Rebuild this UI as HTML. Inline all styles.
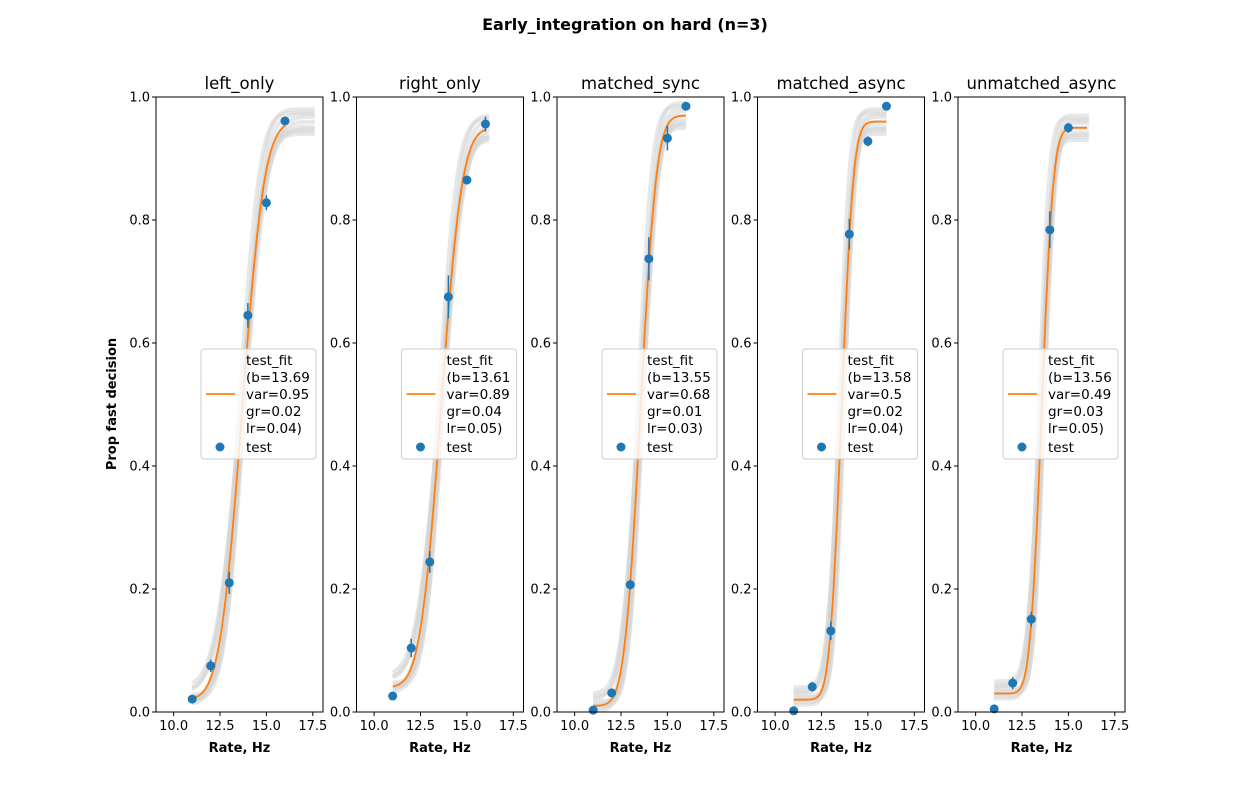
<!DOCTYPE html>
<html><head><meta charset="utf-8"><style>
body{margin:0;background:#fff;}
svg{display:block;font-family:"DejaVu Sans","Liberation Sans",sans-serif;}
</style></head><body>
<svg id="fig" width="1250" height="800" xmlns="http://www.w3.org/2000/svg">
<rect width="1250" height="800" fill="#fff"/>
<text x="625" y="30" text-anchor="middle" font-size="16" font-weight="bold">Early_integration on hard (n=3)</text>
<text transform="translate(116,404) rotate(-90)" text-anchor="middle" font-size="13" font-weight="bold">Prop fast decision</text>
</svg>
<script>
const titles=["left_only","right_only","matched_sync","matched_async","unmatched_async"];
const rates=[11,12,13,14,15,16];
const props=[
 [0.021,0.075,0.21,0.645,0.828,0.961],
 [0.026,0.104,0.244,0.675,0.865,0.956],
 [0.003,0.031,0.207,0.737,0.933,0.985],
 [0.002,0.041,0.132,0.777,0.928,0.985],
 [0.005,0.047,0.151,0.784,0.95,null]];
const errs=[
 [0.006,0.01,0.018,0.02,0.012,0.005],
 [0.005,0.015,0.018,0.035,0.006,0.012],
 [0.003,0.006,0.008,0.035,0.02,0.005],
 [0.002,0.008,0.015,0.025,0.008,0.005],
 [0.003,0.01,0.012,0.03,0.008,0]];
const fitB=[13.69,13.61,13.55,13.58,13.56];
const fitVar=[0.95,0.89,0.68,0.5,0.49];
const fitGr=[0.02,0.04,0.01,0.02,0.03];
const fitLr=[0.04,0.05,0.03,0.04,0.05];
const bootB=[-0.15,-0.1,-0.05,0,0.05,0.1,0.15,-0.08,0.08];
const bootVar=[0.9,1.08,0.95,1.1,0.92,1.04,0.9,1.12,0.86];
const bootGr=[0,0.012,-0.008,0.015,0.004,-0.004,0.008,0.02,0];
const bootLr=[-0.015,0.008,0.015,-0.008,0.02,0,-0.012,0.012,-0.02];
const yTicks=[0,0.2,0.4,0.6,0.8,1.0];
const xTicks=[10,12.5,15,17.5];
const greyEnd=[17.6,16.2,16,16,16.1];

const NS="http://www.w3.org/2000/svg";
const svg=document.getElementById('fig');
function el(t,a,p){const e=document.createElementNS(NS,t);for(const k in a)e.setAttribute(k,a[k]);(p||svg).appendChild(e);return e;}
function erf(x){const s=x<0?-1:1;x=Math.abs(x);const t=1/(1+0.3275911*x);const y=1-(((((1.061405429*t-1.453152027)*t)+1.421413741)*t-0.284496736)*t+0.254829592)*t*Math.exp(-x*x);return s*y;}
function psy(x,b,v,g,l){return g+(1-g-l)*0.5*(1+erf((x-b)/(v*Math.SQRT2)));}
const AX_W=167,TOP=97,BOT=712,XMIN=9.05,XMAX=18.05;
const lefts=[156,356.5,557,757.5,958];
titles.forEach((ttl,i)=>{
 const L=lefts[i];
 const sx=x=>L+(x-XMIN)/(XMAX-XMIN)*AX_W;
 const sy=y=>BOT-y*(BOT-TOP);
 const g=el('g',{});
 
 
 bootB.forEach((db,k)=>{
  let d='';
  for(let x=11;x<=greyEnd[i]+1e-9;x+=0.05){d+=(d?'L':'M')+sx(x).toFixed(1)+','+sy(psy(x,fitB[i]+db,fitVar[i]*bootVar[k],Math.max(0,fitGr[i]+bootGr[k]),Math.max(0,fitLr[i]+bootLr[k]))).toFixed(1);}
  const p=el('path',{d:d,fill:'none',stroke:'#d3d3d3','stroke-width':4,'stroke-opacity':0.55},g);
  
  
 });
 let d='';
 for(let x=11;x<=16.001;x+=0.05){d+=(d?'L':'M')+sx(x).toFixed(1)+','+sy(psy(x,fitB[i],fitVar[i],fitGr[i],fitLr[i])).toFixed(1);}
 const fp=el('path',{d:d,fill:'none',stroke:'#ff7f0e','stroke-width':1.8},g);
 
 
 rates.forEach((r,j)=>{
  const v=props[i][j]; if(v==null)return;
  const eb=el('line',{x1:sx(r),x2:sx(r),y1:sy(v-errs[i][j]),y2:sy(v+errs[i][j]),stroke:'#1f77b4','stroke-width':1.5},g);
  
  
  const c=el('circle',{cx:sx(r),cy:sy(v),r:4.5,fill:'#1f77b4'},g);
  
  
 });
 const fr=el('rect',{x:L,y:TOP,width:AX_W,height:BOT-TOP,fill:'none',stroke:'#000','stroke-width':1},g);
 
 
 yTicks.forEach(t=>{
  el('line',{x1:L-4,x2:L,y1:sy(t),y2:sy(t),stroke:'#000'},g);
  const tx=el('text',{x:L-6,y:sy(t)+4.5,'text-anchor':'end','font-size':13},g);
  tx.textContent=t.toFixed(1);
  
  
 });
 xTicks.forEach(t=>{
  el('line',{x1:sx(t),x2:sx(t),y1:BOT,y2:BOT+4,stroke:'#000'},g);
  const tx=el('text',{x:sx(t),y:BOT+18,'text-anchor':'middle','font-size':13},g);
  tx.textContent=t.toFixed(1);
  
  
 });
 const xt=el('text',{x:L+AX_W/2,y:752,'text-anchor':'middle','font-size':13,'font-weight':'bold'},g);
 xt.textContent='Rate, Hz';
 
 
 const st=el('text',{x:L+AX_W/2,y:89,'text-anchor':'middle','font-size':16.5},g);
 st.textContent=ttl;
 
 
 const lg=el('g',{},g);
 
 
 el('rect',{x:L+45,y:349,width:115,height:110,rx:3,fill:'#fff','fill-opacity':0.8,stroke:'#ccc'},lg);
 el('line',{x1:L+50,x2:L+79,y1:394,y2:394,stroke:'#ff7f0e','stroke-width':1.8},lg);
 const lines=['test_fit','(b='+fitB[i],'var='+fitVar[i],'gr='+fitGr[i],'lr='+fitLr[i]+')'];
 lines.forEach((s,k)=>{const tx=el('text',{x:L+90,y:365+k*17,'font-size':13.5},lg);tx.textContent=s;
  
  });
 el('circle',{cx:L+64,cy:447,r:4.5,fill:'#1f77b4'},lg);
 const tt=el('text',{x:L+90,y:452,'font-size':13.5},lg);tt.textContent='test';
 
 
});
</script>
</body></html>
